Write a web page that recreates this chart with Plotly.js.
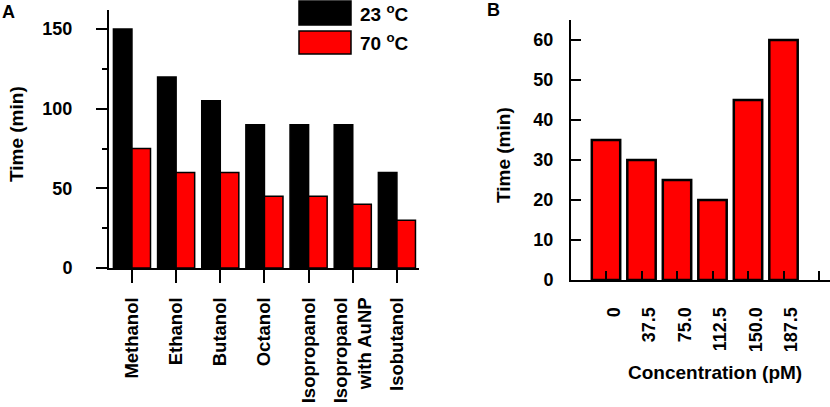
<!DOCTYPE html>
<html>
<head>
<meta charset="utf-8">
<script src="https://cdn.plot.ly/plotly-3.0.1.min.js"></script>
<style>html,body{margin:0;padding:0;background:#fff;}#chart{width:830px;height:407px;}</style>
</head>
<body>
<div id="chart"></div>
<script>
// Panel A data
const solvents = ["Methanol", "Ethanol", "Butanol", "Octanol", "Isopropanol", "Isopropanol<br>with AuNP", "Isobutanol"];
const time23C = [150, 120, 105, 90, 90, 90, 60];
const time70C = [75, 60, 60, 45, 45, 40, 30];
const seriesNames = ["23 <sup>o</sup>C", "70 <sup>o</sup>C"];
const yTicksA = [0, 50, 100, 150];

// Panel B data
const concLabels = ["0", "37.5", "75.0", "112.5", "150.0", "187.5"];
const timeConc = [35, 30, 25, 20, 45, 60];
const yTicksB = [0, 10, 20, 30, 40, 50, 60];

const FONT = "Liberation Sans, Arial, sans-serif";
const W = 830, H = 407;
const px = x => x / W;
const py = y => (H - y) / H;

const concIdx = concLabels.map((_, i) => i);
const tickIdxB = concLabels.map((_, i) => i).concat([concLabels.length]);
const tickTextB = concLabels.concat([" "]);

const traces = [
  {type: "bar", x: solvents, y: time23C, name: seriesNames[0], xaxis: "x", yaxis: "y",
   marker: {color: "#000000", line: {color: "#000000", width: 1.5}}, showlegend: false},
  {type: "bar", x: solvents, y: time70C, name: seriesNames[1], xaxis: "x", yaxis: "y",
   marker: {color: "#ff0000", line: {color: "#000000", width: 1.5}}, showlegend: false},
  {type: "bar", x: concIdx, y: timeConc, xaxis: "x2", yaxis: "y2", width: 0.8,
   marker: {color: "#ff0000", line: {color: "#000000", width: 2.5}}, showlegend: false}
];

const axisCommon = {showgrid: false, zeroline: false, showline: true, linecolor: "#000", linewidth: 2,
  tickcolor: "#000", tickwidth: 2, tickfont: {family: FONT, size: 18, color: "#000", weight: "bold"}, fixedrange: true};

const layout = {
  width: W, height: H, autosize: false,
  margin: {l: 0, r: 0, t: 0, b: 0},
  paper_bgcolor: "#fff", plot_bgcolor: "rgba(0,0,0,0)",
  barmode: "group", bargap: 0.16, bargroupgap: 0,
  font: {family: FONT, color: "#000"},
  xaxis: Object.assign({}, axisCommon, {
    domain: [px(109), px(419)], anchor: "y", type: "category", range: [-0.52, 6.5],
    ticks: "outside", ticklen: 13, tickangle: -90, ticklabelstandoff: 7,
    tickfont: {family: FONT, size: 18.5, color: "#000", weight: "bold"}
  }),
  yaxis: Object.assign({}, axisCommon, {
    domain: [py(268), py(10)], anchor: "x", range: [0, 162],
    tickvals: yTicksA, ticks: "outside", ticklen: 11, ticklabelstandoff: 20,
    minor: {tick0: 0, dtick: 25, ticks: "outside", ticklen: 5, tickwidth: 2, tickcolor: "#000"}
  }),
  xaxis2: Object.assign({}, axisCommon, {
    domain: [px(571), 1], anchor: "y2", range: [-0.986, 6.31],
    tickvals: tickIdxB, ticktext: tickTextB,
    ticks: "inside", ticklen: 9, tickangle: -90, ticklabelstandoff: 18, ticklabelshift: 8
  }),
  yaxis2: Object.assign({}, axisCommon, {
    domain: [py(280), py(20)], anchor: "x2", range: [0, 65],
    tickvals: yTicksB, ticks: "inside", ticklen: 10, ticklabelstandoff: 12
  }),
  shapes: [
    {type: "rect", xref: "paper", yref: "paper", x0: px(299), x1: px(351), y0: py(25), y1: py(1),
     fillcolor: "#000", line: {color: "#000", width: 1.5}},
    {type: "rect", xref: "paper", yref: "paper", x0: px(299), x1: px(351), y0: py(54), y1: py(31),
     fillcolor: "#ff0000", line: {color: "#000", width: 1.5}}
  ],
  annotations: [
    {text: "<b>A</b>", xref: "paper", yref: "paper", x: px(8), y: py(12), xanchor: "center", yanchor: "middle", showarrow: false, font: {family: FONT, size: 18}},
    {text: "<b>B</b>", xref: "paper", yref: "paper", x: px(493), y: py(10), xanchor: "center", yanchor: "middle", showarrow: false, font: {family: FONT, size: 18}},
    {text: "<b>" + seriesNames[0] + "</b>", xref: "paper", yref: "paper", x: px(358), y: py(13), xanchor: "left", yanchor: "middle", showarrow: false, font: {family: FONT, size: 19}},
    {text: "<b>" + seriesNames[1] + "</b>", xref: "paper", yref: "paper", x: px(358), y: py(42), xanchor: "left", yanchor: "middle", showarrow: false, font: {family: FONT, size: 19}},
    {text: "<b>Time (min)</b>", xref: "paper", yref: "paper", x: px(17), y: py(134), xanchor: "center", yanchor: "middle", textangle: -90, showarrow: false, font: {family: FONT, size: 19}},
    {text: "<b>Time (min)</b>", xref: "paper", yref: "paper", x: px(503), y: py(155), xanchor: "center", yanchor: "middle", textangle: -90, showarrow: false, font: {family: FONT, size: 19}},
    {text: "<b>Concentration (pM)</b>", xref: "paper", yref: "paper", x: px(715), y: py(372), xanchor: "center", yanchor: "middle", showarrow: false, font: {family: FONT, size: 19}}
  ]
};

Plotly.newPlot("chart", traces, layout, {displayModeBar: false, staticPlot: true});
</script>
</body>
</html>
